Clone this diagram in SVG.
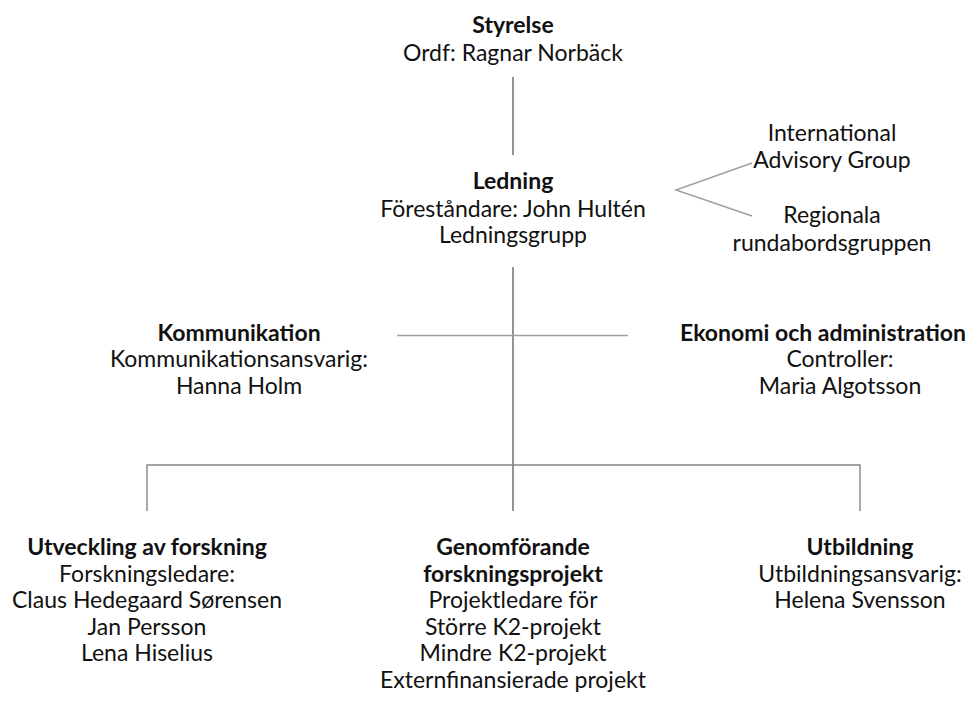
<svg xmlns="http://www.w3.org/2000/svg" width="972" height="705" viewBox="0 0 972 705">
<style>
text{font-family:Lato,"Liberation Sans",sans-serif;font-size:23px;fill:#111;text-anchor:middle}
.b{font-weight:bold}
.d{stroke:#3a3a3a;stroke-width:1.1;fill:none}
.g{stroke:#a0a0a0;stroke-width:1.5;fill:none}
.m{stroke:#858585;stroke-width:1.4;fill:none}
</style>
<rect width="972" height="705" fill="#fff"/>
<g id="connectors">
<line class="d" x1="513" y1="77" x2="513" y2="155"/>
<line class="d" x1="513" y1="267" x2="513" y2="511"/>
<polyline class="g" points="752,163 676,190 752,216"/>
<line class="g" x1="397" y1="335.5" x2="628" y2="335.5"/>
<polyline class="m" points="147,511 147,465 860,465 860,511"/>
</g>
<g id="styrelse"><text x="513" y="33" class="b">Styrelse</text><text x="513" y="61">Ordf: Ragnar Norbäck</text></g>
<g id="ledning"><text x="513" y="189" class="b">Ledning</text><text x="513" y="217">Föreståndare: John Hultén</text><text x="513" y="243">Ledningsgrupp</text></g>
<g id="iag"><text x="832" y="141">International</text><text x="832" y="168">Advisory Group</text></g>
<g id="regionala"><text x="832" y="223">Regionala</text><text x="832" y="251">rundabordsgruppen</text></g>
<g id="kommunikation"><text x="239" y="341" class="b">Kommunikation</text><text x="239" y="367">Kommunikationsansvarig:</text><text x="239" y="394">Hanna Holm</text></g>
<g id="ekonomi"><text x="823" y="341" class="b">Ekonomi och administration</text><text x="840" y="367">Controller:</text><text x="840" y="394">Maria Algotsson</text></g>
<g id="utveckling"><text x="147" y="555" class="b">Utveckling av forskning</text><text x="147" y="582">Forskningsledare:</text><text x="147" y="608">Claus Hedegaard Sørensen</text><text x="147" y="635">Jan Persson</text><text x="147" y="661">Lena Hiselius</text></g>
<g id="genomforande"><text x="513" y="555" class="b">Genomförande</text><text x="513" y="582" class="b">forskningsprojekt</text><text x="513" y="608">Projektledare för</text><text x="513" y="635">Större K2-projekt</text><text x="513" y="661">Mindre K2-projekt</text><text x="513" y="688">Externfinansierade projekt</text></g>
<g id="utbildning"><text x="860" y="555" class="b">Utbildning</text><text x="860" y="582">Utbildningsansvarig:</text><text x="860" y="608">Helena Svensson</text></g>
</svg>
